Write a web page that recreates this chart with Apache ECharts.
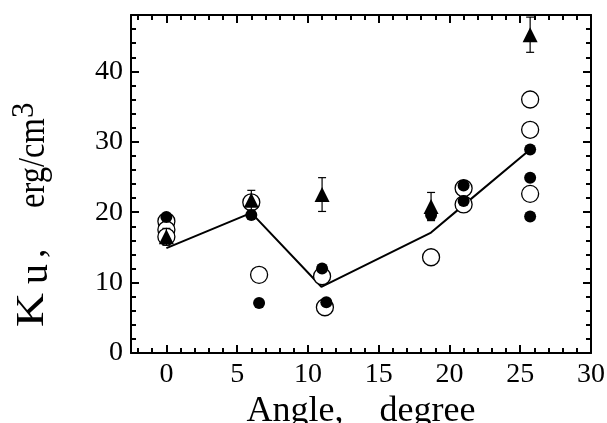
<!DOCTYPE html>
<html><head><meta charset="utf-8">
<script src="https://cdn.jsdelivr.net/npm/echarts@6/dist/echarts.min.js"></script>
<style>html,body{margin:0;padding:0;background:#fff}#c{width:607px;height:423px}</style>
</head><body><div id="c"></div>
<script>
// ---- data ----
const xMajorTicks = [0, 5, 10, 15, 20, 25, 30];
const yMajorTicks = [0, 10, 20, 30, 40];
const lineX = [0, 6, 10.95, 18.7, 21, 25.7];
const lineY = [14.9, 19.9, 9.4, 17.1, 21.0, 28.9];
const openX = [0, 0, 0, 6, 6.55, 11, 11.2, 18.7, 21, 21, 25.7, 25.7, 25.7];
const openY = [18.7, 17.5, 16.5, 21.4, 11.1, 10.9, 6.5, 13.6, 23.4, 21.1, 36.0, 31.7, 22.6];
const filledX = [0, 6, 6.55, 11, 11.3, 18.7, 21, 21, 25.7, 25.7, 25.7];
const filledY = [19.3, 19.6, 7.1, 12.0, 7.2, 19.6, 23.8, 21.6, 28.9, 24.9, 19.4];
const triX = [0, 6, 11, 18.7, 25.7];
const triY = [16.5, 21.7, 22.5, 20.8, 45.2];
const triErr = [1.2, 1.4, 2.4, 2.0, 2.5];

const xMinorTicks = [];
for (let v = -2; v <= 29; v++) if (v % 5 !== 0) xMinorTicks.push(v);
const yMinorTicks = [];
for (let v = 2; v <= 48; v += 2) if (v % 10 !== 0) yMinorTicks.push(v);

const FONT = 'Liberation Serif';
const pair = (xs, ys) => xs.map((x, i) => [x, ys[i]]);

function xAx(pos, ticks, len, labels, showLine) {
  return {
    type: 'value', position: pos, min: -2.5, max: 30,
    axisLine: {show: showLine, onZero: false, lineStyle: {color: '#000', width: 2}},
    axisTick: {show: true, inside: true, length: len, customValues: ticks, lineStyle: {color: '#000', width: 2}},
    axisLabel: labels ? {show: true, customValues: ticks, color: '#000', fontFamily: FONT, fontSize: 28, margin: 8} : {show: false},
    splitLine: {show: false}
  };
}
function yAx(pos, ticks, len, labels, showLine) {
  return {
    type: 'value', position: pos, min: 0, max: 48,
    axisLine: {show: showLine, onZero: false, lineStyle: {color: '#000', width: 2}},
    axisTick: {show: true, inside: true, length: len, customValues: ticks, lineStyle: {color: '#000', width: 2}},
    axisLabel: labels ? {show: true, customValues: ticks, color: '#000', fontFamily: FONT, fontSize: 28, margin: 8} : {show: false},
    splitLine: {show: false}
  };
}

const xAxes = [
  Object.assign(xAx('bottom', xMajorTicks, 8, true, true), {
    name: 'Angle,    degree', nameLocation: 'middle', nameGap: 38,
    nameTextStyle: {color: '#000', fontFamily: FONT, fontSize: 36}
  }),
  xAx('bottom', xMinorTicks, 5, false, false),
  xAx('top', xMajorTicks, 8, false, true),
  xAx('top', xMinorTicks, 5, false, false)
];
const yAxes = [
  yAx('left', yMajorTicks, 8, true, true),
  yAx('left', yMinorTicks, 5, false, false),
  yAx('right', yMajorTicks, 8, false, true),
  yAx('right', yMinorTicks, 5, false, false)
];

const chart = echarts.init(document.getElementById('c'), null, {renderer: 'canvas'});
chart.setOption({
  animation: false,
  backgroundColor: '#fff',
  grid: {left: 131, right: 16, top: 15, bottom: 70, containLabel: false, outerBoundsMode: 'none'},
  xAxis: xAxes,
  yAxis: yAxes,
  graphic: [{
    type: 'group', x: 53, y: 330, rotation: Math.PI / 2,
    children: [
      {type: 'text', x: 3, y: 0, scaleX: 1.15, style: {text: 'K', font: '41px "Liberation Serif"', fill: '#000', verticalAlign: 'bottom'}},
      {type: 'text', x: 46, y: 3, style: {text: 'u', font: '40px "Liberation Serif"', fill: '#000', verticalAlign: 'bottom'}},
      {type: 'text', x: 72, y: 0, style: {text: ',', font: '38px "Liberation Serif"', fill: '#000', verticalAlign: 'bottom'}},
      {type: 'text', x: 122, y: 0, scaleX: 0.88, style: {text: 'erg/cm', font: '37px "Liberation Serif"', fill: '#000', verticalAlign: 'bottom'}},
      {type: 'text', x: 212, y: -13, style: {text: '3', font: '31px "Liberation Serif"', fill: '#000', verticalAlign: 'bottom'}}
    ]
  }],
  series: [
    {type: 'line', data: pair(lineX, lineY), symbol: 'none', lineStyle: {color: '#000', width: 2}, z: 1},
    {type: 'scatter', data: pair(openX, openY), symbol: 'circle', symbolSize: 17,
      itemStyle: {color: '#fff', borderColor: '#000', borderWidth: 1.3, opacity: 1}, z: 2},
    {type: 'scatter', data: pair(filledX, filledY), symbol: 'circle', symbolSize: 12,
      itemStyle: {color: '#000', opacity: 1}, z: 3},
    {type: 'custom', z: 4,
      data: triX.map((x, i) => [x, triY[i], triErr[i]]),
      renderItem: function (params, api) {
        const x = api.value(0), y = api.value(1), e = api.value(2);
        const top = api.coord([x, y + e]);
        const bot = api.coord([x, y - e]);
        const w = 4;
        const st = {stroke: '#000', lineWidth: 1.2};
        return {type: 'group', children: [
          {type: 'line', shape: {x1: top[0], y1: top[1], x2: bot[0], y2: bot[1]}, style: st},
          {type: 'line', shape: {x1: top[0] - w, y1: top[1], x2: top[0] + w, y2: top[1]}, style: st},
          {type: 'line', shape: {x1: bot[0] - w, y1: bot[1], x2: bot[0] + w, y2: bot[1]}, style: st}
        ]};
      }
    },
    {type: 'scatter', data: pair(triX, triY), symbol: 'triangle', symbolSize: 15,
      itemStyle: {color: '#000', opacity: 1}, z: 5}
  ]
});
</script></body></html>
